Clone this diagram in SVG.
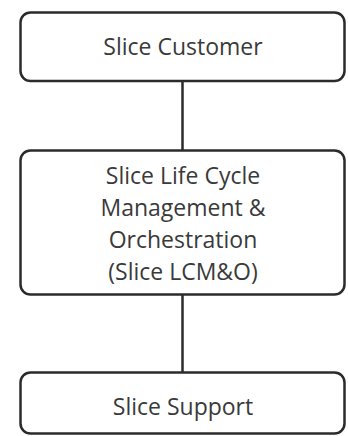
<svg xmlns="http://www.w3.org/2000/svg" width="348" height="436" viewBox="0 0 348 436">
<style>
.box{fill:#fff;stroke:#2b2b2b;stroke-width:2.5}
.lbl{font-family:"Open Sans","Liberation Sans",sans-serif;font-size:23px;fill:#3a3a3a;text-anchor:middle}
.con{stroke:#2b2b2b;stroke-width:2.5;fill:none}
</style>
<rect width="348" height="436" fill="#fff"/>
<g id="connectors">
<line class="con" x1="182.5" y1="81" x2="182.5" y2="150"/>
<line class="con" x1="182.5" y1="295" x2="182.5" y2="372"/>
</g>
<g id="slice-customer">
<rect class="box" x="20.5" y="12.5" width="324" height="68.5" rx="10"/>
<text class="lbl" x="183" y="55">Slice Customer</text>
</g>
<g id="slice-lcmo">
<rect class="box" x="20.5" y="150.5" width="324" height="144" rx="10"/>
<text class="lbl" x="183" y="184">Slice Life Cycle</text>
<text class="lbl" x="183" y="216">Management &amp;</text>
<text class="lbl" x="183" y="248">Orchestration</text>
<text class="lbl" x="183" y="280">(Slice LCM&amp;O)</text>
</g>
<g id="slice-support">
<rect class="box" x="20.5" y="372.5" width="324" height="61" rx="10"/>
<text class="lbl" x="183" y="415">Slice Support</text>
</g>
</svg>
